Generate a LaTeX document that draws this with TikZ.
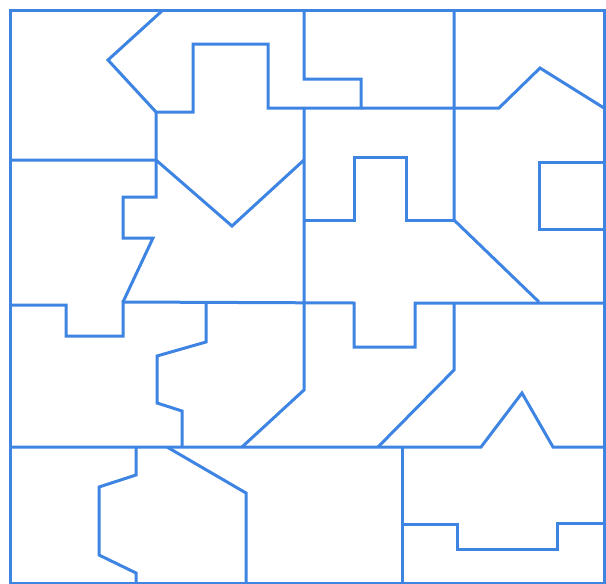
\documentclass[tikz,border=0pt]{standalone}
\usepackage{tikz}
\usetikzlibrary{calc,positioning}
\usepackage{xcolor}
\definecolor{myblue}{RGB}{62,132,226}

\begin{document}
\begin{tikzpicture}[x=1pt, y=-1pt, cut/.style={draw=myblue, line width=3pt, line join=miter}]
  \useasboundingbox (0,0) rectangle (606,584);

  % Outer frame
  \draw[cut] (10,10) rectangle (604,583);

  % Top row
  \draw[cut] (163,10) -- (108,60) -- (156,112) -- (193,112) -- (193,44) -- (268,44)
    -- (268,108) -- (361,108) -- (361,79) -- (304,79) -- (304,10);
  \draw[cut] (361,108) -- (499,108) -- (540,68) -- (604,108);
  \draw[cut] (454,10) -- (454,220) -- (539,302);

  % Second row
  \draw[cut] (10,160) -- (156,160) -- (232,226) -- (304,160);
  \draw[cut] (156,112) -- (156,197) -- (123,197) -- (123,238) -- (153,238) -- (123,302);
  \draw[cut] (304,108) -- (304,390) -- (242,447);
  \draw[cut] (304,220) -- (354,220) -- (354,157) -- (406,157) -- (406,220) -- (454,220);
  \draw[cut] (604,162) -- (539,162) -- (539,229) -- (604,229);

  % Third row
  \draw[cut] (10,305) -- (66,305) -- (66,336) -- (123,336) -- (123,302) -- (354,303)
    -- (354,347) -- (415,347) -- (415,303) -- (604,303);
  \draw[cut] (206,303) -- (206,342) -- (157,356) -- (157,403) -- (182,411) -- (182,447);
  \draw[cut] (454,303) -- (454,370) -- (378,447);

  % Bottom row
  \draw[cut] (10,447) -- (481,447) -- (522,393) -- (553,447) -- (604,447);
  \draw[cut] (402,447) -- (402,583);
  \draw[cut] (402,524) -- (457,524) -- (457,549) -- (557,549) -- (557,523) -- (604,523);
  \draw[cut] (136,447) -- (136,475) -- (99,487) -- (99,555) -- (136,573) -- (136,583);
  \draw[cut] (167,447) -- (246,493) -- (246,583);
\end{tikzpicture}
\end{document}
